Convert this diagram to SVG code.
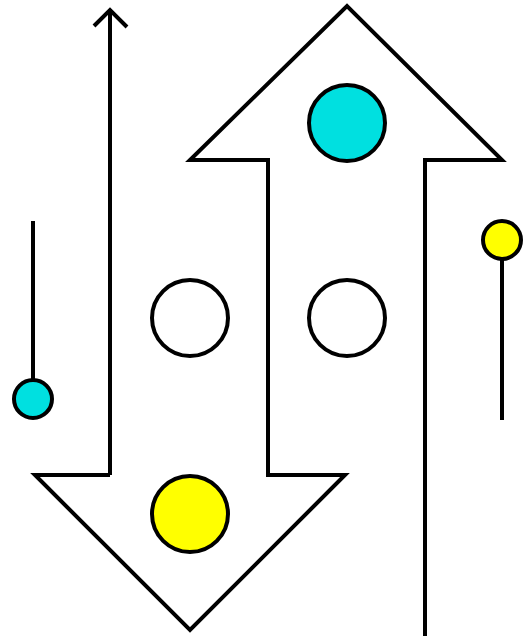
<svg xmlns="http://www.w3.org/2000/svg" width="532" height="636" viewBox="0 0 532 636">
<style>
.s{fill:none;stroke:#000;stroke-width:4;stroke-linejoin:miter}
.c{stroke:#000;stroke-width:4}
</style>
<rect width="532" height="636" fill="#fff"/>
<g id="arrows">
<path class="s" d="M110,475 L35,475 L190,630 L345,475 L268,475 L268,160 L190,160 L347,6 L502,160 L425,160 L425,640"/>
<path class="s" d="M110,475 L110,9"/>
<path class="s" d="M94,26 L110,10 L127,27"/>
</g>
<g id="connectors">
<line class="s" x1="33" y1="221" x2="33" y2="380"/>
<line class="s" x1="502" y1="259" x2="502" y2="420"/>
</g>
<g id="n-cyan-big"><circle class="c" cx="347" cy="123" r="38" fill="#00e0e0"/></g>
<g id="n-white-left"><circle class="c" cx="190" cy="318" r="38" fill="#fff"/></g>
<g id="n-white-right"><circle class="c" cx="347" cy="318" r="38" fill="#fff"/></g>
<g id="n-yellow-big"><circle class="c" cx="190" cy="514" r="38" fill="#ffff00"/></g>
<g id="n-cyan-small"><circle class="c" cx="33" cy="399" r="19" fill="#00e0e0"/></g>
<g id="n-yellow-small"><circle class="c" cx="502" cy="240" r="19" fill="#ffff00"/></g>
</svg>
